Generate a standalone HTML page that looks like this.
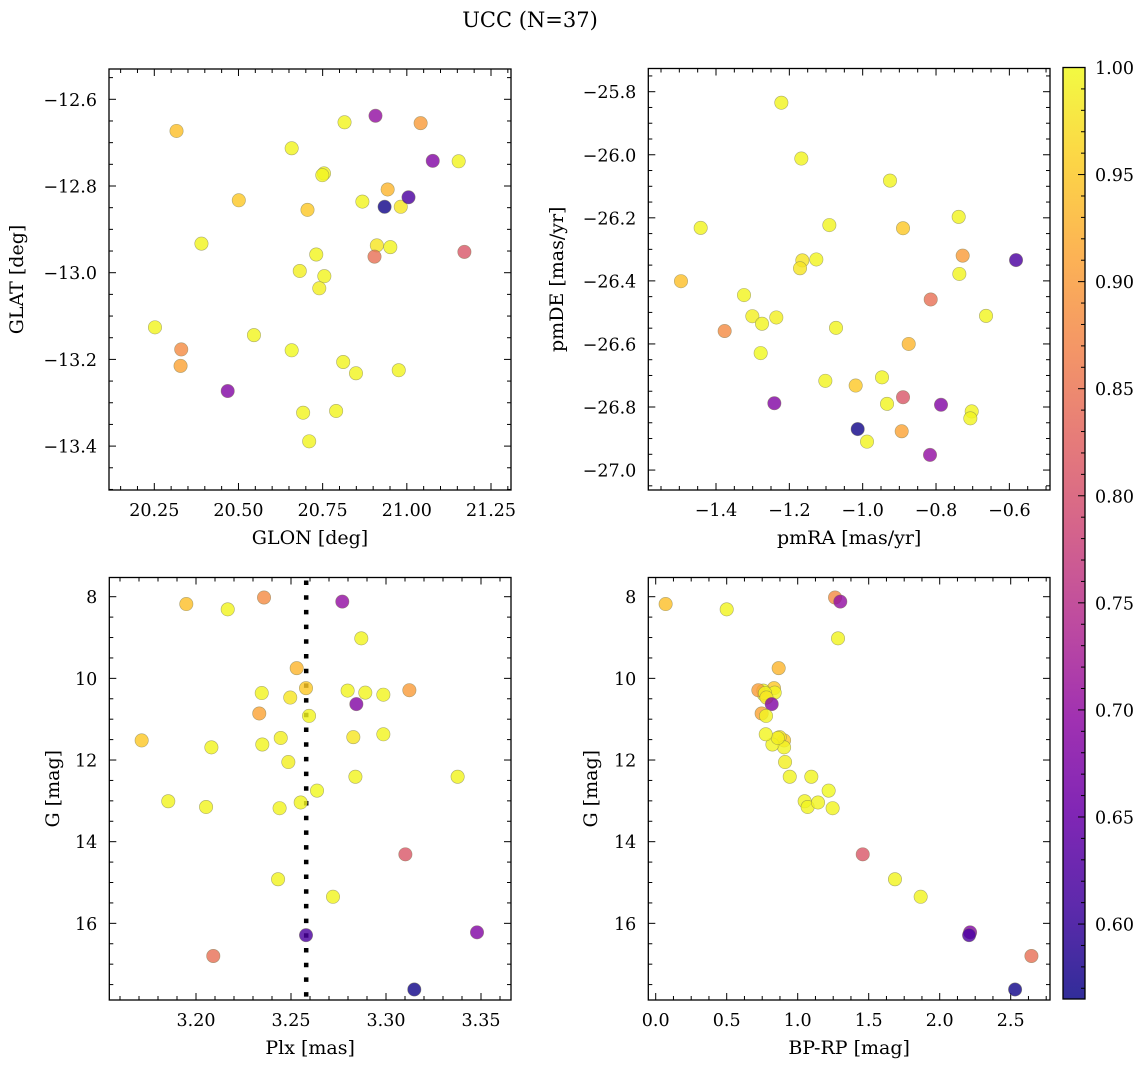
<!DOCTYPE html>
<html><head><meta charset="utf-8"><style>
body{margin:0;background:#fff}
svg{display:block;font-family:"DejaVu Serif","Liberation Serif",serif}
</style></head><body>
<svg id="fig" width="1148" height="1067" viewBox="0 0 1148 1067">
<defs><linearGradient id="cbgrad" x1="0" y1="1" x2="0" y2="0"></linearGradient></defs>
<text x="530" y="27" font-size="21" text-anchor="middle">UCC (N=37)</text>
</svg>
<script>
const glon=[20.316,20.815,20.330,20.907,20.658,20.943,20.705,21.154,20.754,20.749,21.041,20.868,20.982,21.077,20.328,20.390,20.501,20.911,20.951,20.731,20.682,20.755,20.740,20.252,20.546,20.658,20.811,20.849,20.976,20.692,21.171,20.790,20.710,20.468,21.005,20.904,20.934];
const glat=[-12.673,-12.653,-13.177,-12.638,-12.713,-12.808,-12.855,-12.743,-12.771,-12.775,-12.655,-12.836,-12.848,-12.742,-13.215,-12.933,-12.833,-12.937,-12.941,-12.958,-12.996,-13.008,-13.036,-13.126,-13.144,-13.179,-13.206,-13.232,-13.225,-13.323,-12.952,-13.319,-13.389,-13.273,-12.826,-12.963,-12.848];
const pmra=[-1.4955,-1.2218,-1.3764,-0.8164,-1.1673,-0.8745,-1.0191,-0.9255,-1.4418,-1.0909,-0.7273,-0.7382,-1.1645,-1.2409,-0.8936,-1.1264,-0.8900,-1.1709,-0.7364,-1.3236,-1.3009,-1.2745,-1.2355,-0.6636,-1.0727,-1.2782,-1.1018,-0.9473,-0.9336,-0.7027,-0.8900,-0.7064,-0.9882,-0.7864,-0.5818,-0.8145,-1.0136];
const pmde=[-26.401,-25.835,-26.559,-26.952,-26.012,-26.600,-26.732,-26.082,-26.232,-26.223,-26.320,-26.197,-26.335,-26.788,-26.877,-26.332,-26.233,-26.360,-26.378,-26.445,-26.512,-26.536,-26.516,-26.511,-26.549,-26.629,-26.717,-26.706,-26.790,-26.814,-26.769,-26.836,-26.910,-26.793,-26.334,-26.459,-26.870];
const plx=[3.1949,3.2167,3.2358,3.2770,3.2870,3.2530,3.2579,3.2798,3.2891,3.2986,3.3123,3.2346,3.2496,3.2844,3.2333,3.2595,3.1714,3.2828,3.2081,3.2349,3.2446,3.2986,3.2486,3.2839,3.3377,3.2637,3.1854,3.2053,3.2440,3.2551,3.3102,3.2432,3.2721,3.3479,3.2579,3.2091,3.3149];
const gmag=[8.18,8.31,8.02,8.12,9.02,9.75,10.24,10.30,10.35,10.40,10.29,10.36,10.47,10.63,10.86,10.92,11.52,11.44,11.69,11.62,11.46,11.37,12.05,12.41,12.41,12.75,13.01,13.15,13.18,13.04,14.31,14.92,15.35,16.22,16.29,16.80,17.62];
const bprp=[0.070,0.500,1.263,1.300,1.284,0.866,0.833,0.758,0.838,0.763,0.723,0.770,0.780,0.817,0.746,0.777,0.904,0.873,0.904,0.822,0.860,0.775,0.911,0.944,1.096,1.218,1.049,1.070,1.246,1.143,1.458,1.685,1.866,2.214,2.207,2.646,2.531];
const prob=[0.94,0.995,0.88,0.70,0.995,0.93,0.95,0.995,0.995,0.995,0.90,0.995,0.98,0.68,0.91,0.995,0.95,0.98,0.995,0.995,0.99,0.995,0.99,0.995,0.995,1.0,0.995,0.995,0.995,0.995,0.81,0.995,0.995,0.68,0.62,0.845,0.57];
const plxMean=3.258;
const cbTicks=[0.60,0.65,0.70,0.75,0.80,0.85,0.90,0.95,1.00];

const NS="http://www.w3.org/2000/svg";
const svg=document.getElementById('fig');
function mk(tag,attrs,parent){const e=document.createElementNS(NS,tag);for(const k in attrs)e.setAttribute(k,attrs[k]);(parent||svg).appendChild(e);return e;}
const plasma=["#0d0887","#41049d","#6a00a8","#8f0da4","#b12a90","#cc4778","#e16462","#f2844b","#fca636","#fcce25","#f0f921"];
function hex(h){return [1,3,5].map(i=>parseInt(h.substr(i,2),16));}
function cmap(t){t=Math.max(0,Math.min(1,t));const f=t*10,i=Math.min(9,Math.floor(f)),r=f-i;const a=hex(plasma[i]),b=hex(plasma[i+1]);return 'rgb('+a.map((v,k)=>Math.round(v+(b[k]-v)*r)).join(',')+')';}
const vmin=0.565,vmax=1.0;
function pcol(p){return cmap((p-vmin)/(vmax-vmin));}
function fmt(v,d){const s=Math.abs(v).toFixed(d);return (v<-1e-9?'\u2212':'')+s;}
const TF=17.5, LF=19;

function panel(cfg){
  const g=mk('g',{});
  
  
  const L=cfg.x0,R=cfg.x1,T=cfg.y0,B=cfg.y1;
  const sx=v=>cfg.xa+(v-cfg.xv)*cfg.xs;
  const sy=v=>cfg.ya+(v-cfg.yv)*cfg.ys;
  const xlo=cfg.xv+(L-cfg.xa)/cfg.xs,xhi=cfg.xv+(R-cfg.xa)/cfg.xs;
  const yA=cfg.yv+(T-cfg.ya)/cfg.ys,yB=cfg.yv+(B-cfg.ya)/cfg.ys;
  const ylo=Math.min(yA,yB),yhi=Math.max(yA,yB);
  const tg=mk('g',{stroke:'#000','stroke-width':1},g);
  
  
  for(let k=Math.ceil(xlo/cfg.xmin-1e-6);k*cfg.xmin<=xhi+1e-9;k++){
    const v=k*cfg.xmin,px=sx(v);
    const maj=Math.abs(v/cfg.xmaj-Math.round(v/cfg.xmaj))<1e-6;const len=maj?7:4;
    mk('line',{x1:px,x2:px,y1:B,y2:B-len},tg);mk('line',{x1:px,x2:px,y1:T,y2:T+len},tg);
    if(maj){const t=mk('text',{x:px,y:B+26,'font-size':TF,'text-anchor':'middle',stroke:'none',fill:'#000'},g);t.textContent=fmt(v,cfg.xd);
      }
  }
  for(let k=Math.ceil(ylo/cfg.ymin-1e-6);k*cfg.ymin<=yhi+1e-9;k++){
    const v=k*cfg.ymin,py=sy(v);
    const maj=Math.abs(v/cfg.ymaj-Math.round(v/cfg.ymaj))<1e-6;const len=maj?7:4;
    mk('line',{x1:L,x2:L+len,y1:py,y2:py},tg);mk('line',{x1:R,x2:R-len,y1:py,y2:py},tg);
    if(maj){const t=mk('text',{x:L-12,y:py+6.5,'font-size':TF,'text-anchor':'end',stroke:'none',fill:'#000'},g);t.textContent=fmt(v,cfg.yd);
      }
  }
  const xl=mk('text',{x:(L+R)/2,y:B+54,'font-size':LF,'text-anchor':'middle'},g);xl.textContent=cfg.xlabel;
  
  const yl=mk('text',{x:0,y:0,'font-size':LF,'text-anchor':'middle',transform:`translate(${cfg.ylx},${(T+B)/2}) rotate(-90)`},g);yl.textContent=cfg.ylabel;
  
  if(cfg.vline!==undefined){
    const ln=mk('line',{x1:sx(cfg.vline),x2:sx(cfg.vline),y1:T+3,y2:B,stroke:'#000','stroke-width':4.5,'stroke-dasharray':'4.5 10.2'},g);
    
  }
  const pg=mk('g',{},g);
  
  for(let i=0;i<cfg.xs_.length;i++){
    const c=mk('circle',{cx:sx(cfg.xs_[i]),cy:sy(cfg.ys_[i]),r:6.7,fill:pcol(prob[i]),'fill-opacity':0.82,stroke:'#7a7a50','stroke-opacity':0.6,'stroke-width':0.6},pg);
    
    
  }
  const fr=mk('rect',{x:L,y:T,width:R-L,height:B-T,fill:'none',stroke:'#000','stroke-width':1.3},g);
  
}
panel({name:'glon-glat-panel',x0:109,x1:511,y0:69,y1:490,xa:154.3,xv:20.25,xs:336.7,ya:99.3,yv:-12.6,ys:-433.5,xmaj:0.25,xmin:0.05,ymaj:0.2,ymin:0.05,xd:2,yd:1,xlabel:'GLON [deg]',ylabel:'GLAT [deg]',ylx:23,xs_:glon,ys_:glat});
panel({name:'pm-panel',x0:648.3,x1:1050,y0:68.5,y1:490,xa:716,xv:-1.4,xs:366.7,ya:91.7,yv:-25.8,ys:-315.3,xmaj:0.2,xmin:0.05,ymaj:0.2,ymin:0.05,xd:1,yd:1,xlabel:'pmRA [mas/yr]',ylabel:'pmDE [mas/yr]',ylx:563,xs_:pmra,ys_:pmde});
panel({name:'plx-g-panel',x0:109.3,x1:511,y0:577.5,y1:1000,xa:291,xv:3.25,xs:1900,ya:596.7,yv:8,ys:40.83,xmaj:0.05,xmin:0.01,ymaj:2,ymin:0.5,xd:2,yd:0,xlabel:'Plx [mas]',ylabel:'G [mag]',ylx:59,xs_:plx,ys_:gmag,vline:plxMean});
panel({name:'cmd-panel',x0:648.3,x1:1050,y0:577.5,y1:1000,xa:655.7,xv:0,xs:142,ya:596.7,yv:8,ys:40.83,xmaj:0.5,xmin:0.125,ymaj:2,ymin:0.5,xd:1,yd:0,xlabel:'BP-RP [mag]',ylabel:'G [mag]',ylx:597,xs_:bprp,ys_:gmag});

// colorbar
const grad=document.getElementById('cbgrad');
for(let i=0;i<=10;i++){mk('stop',{offset:(i/10),'stop-color':plasma[i],'stop-opacity':0.85},grad);}
const cbT=67.5,cbB=999,cbL=1063,cbR=1085;
const cy=v=>cbT+(vmax-v)/(vmax-vmin)*(cbB-cbT);
const cg=mk('g',{});
mk('rect',{x:cbL,y:cbT,width:cbR-cbL,height:cbB-cbT,fill:'url(#cbgrad)',stroke:'#000','stroke-width':1.3},cg);
for(let v=0.57;v<=1.0001;v+=0.01){const y=cy(v);const maj=cbTicks.some(t=>Math.abs(t-v)<1e-6);
  mk('line',{x1:cbR,x2:cbR-(maj?7:4),y1:y,y2:y,stroke:'#000','stroke-width':1},cg);}
for(const t of cbTicks){const tx=mk('text',{x:cbR+10,y:cy(t)+6.5,'font-size':TF},cg);tx.textContent=t.toFixed(2);
  }
</script>
</body></html>
